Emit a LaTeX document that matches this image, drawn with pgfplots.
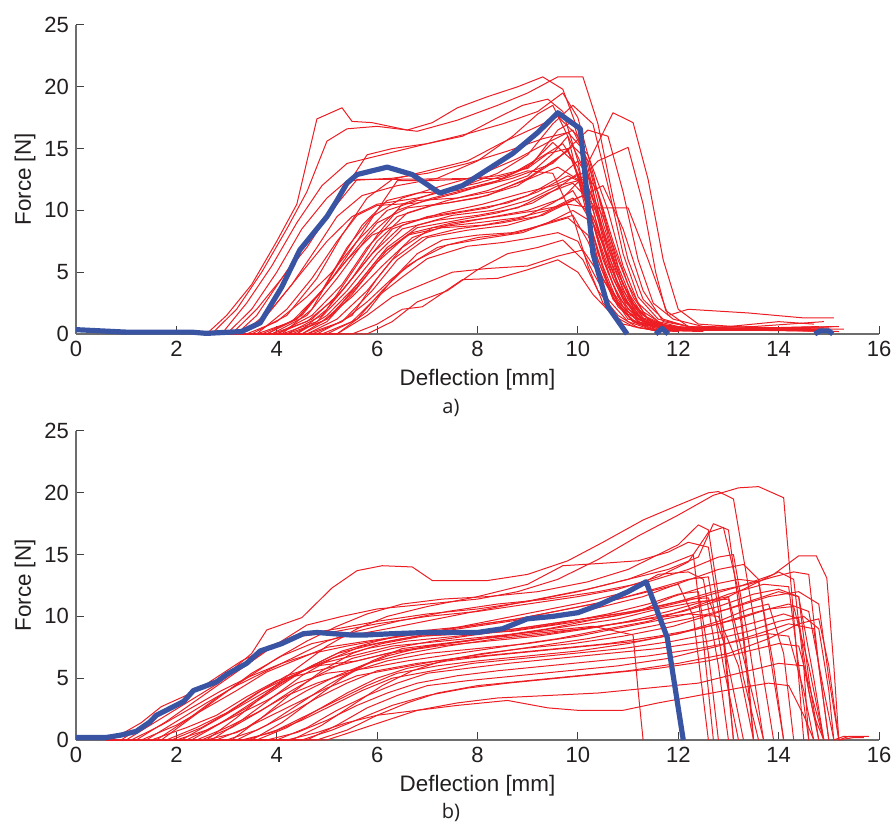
\documentclass[border=0pt]{standalone}
\usepackage{fontspec}
\setmainfont{Liberation Sans}
\newfontfamily\capfont{Open Sans}
\usepackage{pgfplots}
\pgfplotsset{compat=1.18}

\definecolor{myred}{RGB}{236,30,36}
\definecolor{myblue}{RGB}{56,84,162}
\definecolor{axgray}{RGB}{110,110,110}
\definecolor{txt}{RGB}{35,31,32}

\pgfplotsset{
  force/.style={
    width=401.5pt, height=154.5pt, scale only axis,
    xmin=0, xmax=16, ymin=0, ymax=25,
    xtick={0,2,...,16}, ytick={0,5,...,25},
    axis x line*=bottom, axis y line*=left,
    tick align=inside, major tick length=4pt,
    axis line style={axgray, line width=0.6pt},
    tick style={black!75, line width=0.5pt},
    tick label style={font=\fontsize{11}{13}\selectfont, text=txt},
    /pgf/number format/assume math mode=true,
    label style={font=\fontsize{11.2}{13}\selectfont, text=txt},
    xlabel={Deflection [mm]}, ylabel={Force [N]},
    xlabel style={at={(axis description cs:0.5,-0.149)}, anchor=center},
    ylabel style={at={(axis description cs:-0.0635,0.5)}, anchor=center},
    clip=false,
  },
  rl/.style={draw=myred, line width=0.5pt, mark=none, line join=round},
  bl/.style={draw=myblue, line width=2.6pt, mark=none, line join=round},
}

\begin{document}
\begin{tikzpicture}
\useasboundingbox (-38pt,-244pt) rectangle (409pt,167pt);

% ---------------- a) ----------------
\begin{axis}[force, at={(0,0)}, anchor=south west]
% early risers
\addplot[rl] coordinates {(2.6,0)(3.0,1.5)(3.5,4.0)(4.0,7.5)(4.4,10.5)(4.8,17.4)(5.3,18.3)(5.5,17.2)(5.9,17.1)(6.6,16.5)(7.1,17.1)(7.6,18.3)(8.2,19.2)(8.8,20.0)(9.3,20.8)(9.7,19.8)(10.0,16.5)(10.3,11.0)(10.6,6.0)(10.9,3.0)(11.3,1.2)(11.8,0.6)(12.5,0.5)(14.0,0.3)(15.0,0.2)};
\addplot[rl] coordinates {(2.7,0)(3.2,2.0)(3.7,5.0)(4.2,8.5)(4.6,11.5)(5.0,15.6)(5.4,16.6)(6.0,16.8)(6.8,16.4)(7.6,17.3)(8.4,18.5)(9.0,19.5)(9.6,20.8)(10.1,20.8)(10.4,17.0)(10.7,11.0)(11.0,6.0)(11.3,2.8)(11.7,1.2)(12.2,0.6)(13.0,0.5)(14.5,0.3)};
\addplot[rl] coordinates {(2.9,0)(3.4,2.5)(3.9,5.5)(4.4,9.0)(4.9,12.0)(5.4,13.8)(6.2,14.6)(7.0,15.4)(7.8,16.2)(8.5,17.0)(9.2,18.0)(9.7,19.5)(10.0,17.5)(10.3,13.0)(10.6,8.0)(10.9,4.0)(11.3,1.5)(11.8,0.6)(13.5,0.3)(15.2,0.2)};
\addplot[rl] coordinates {(2.6,0)(3.0,0)(3.5,2.0)(4.0,5.0)(4.5,8.5)(5.0,11.0)(5.4,12.4)(6.3,12.6)(7.0,13.0)(7.8,13.8)(8.6,14.8)(9.3,15.8)(9.8,16.3)(10.2,14.5)(10.6,10.0)(10.9,5.5)(11.2,2.5)(11.6,1.0)(12.2,0.4)(14.2,0.3)(14.9,0.3)};
\addplot[rl] coordinates {(2.6,0)(3.2,0)(3.6,1.5)(4.1,4.5)(4.6,7.5)(5.1,10.0)(5.6,12.5)(6.0,12.5)(8.5,12.6)(9.0,13.5)(9.5,15.5)(9.9,14.0)(10.2,10.5)(10.5,6.0)(10.8,3.0)(11.2,1.2)(12.0,0.3)(14.6,0.4)};
\addplot[rl] coordinates {(2.6,0)(3.1,0)(3.6,2.0)(4.1,4.5)(4.6,7.0)(5.0,9.5)(5.4,12.0)(5.8,14.5)(6.3,15.0)(7.0,15.4)(7.7,16.0)(8.4,17.5)(8.9,18.5)(9.4,19.0)(9.7,18.0)(10.0,14.0)(10.3,8.0)(10.6,4.0)(11.0,1.6)(11.5,0.6)(12.8,0.4)(15.0,0.3)};
\addplot[rl] coordinates {(2.6,0)(3.3,0)(3.8,1.5)(4.3,4.0)(4.8,7.0)(5.2,9.5)(5.7,11.2)(6.4,12.0)(7.2,12.6)(8.0,14.0)(8.7,16.0)(9.2,17.8)(9.5,18.5)(9.8,16.0)(10.1,11.0)(10.4,6.0)(10.7,2.8)(11.1,1.0)(12.0,0.3)};
% main bundle
\addplot[rl] coordinates {(2.6,0)(3.5,0)(4.2,1.5)(4.8,4.5)(5.3,8.0)(5.8,11.0)(6.3,12.5)(7.0,13.2)(7.8,14.0)(8.5,15.5)(9.2,16.8)(9.6,17.6)(10.0,16.0)(10.3,11.5)(10.6,7.0)(10.9,3.5)(11.3,1.3)(12.0,0.4)(13.5,0.3)};
\addplot[rl] coordinates {(2.6,0)(3.6,0)(4.3,1.0)(4.9,3.5)(5.4,7.0)(5.9,9.5)(6.5,11.0)(7.3,12.0)(8.0,12.8)(8.8,14.2)(9.4,15.5)(9.9,16.5)(10.2,14.0)(10.5,9.0)(10.8,5.0)(11.1,2.2)(11.6,0.6)(13.0,0.3)(15.0,0.5)};
\addplot[rl] coordinates {(2.6,0)(3.7,0)(4.4,1.2)(5.0,4.0)(5.5,6.5)(6.0,9.0)(6.6,10.2)(7.4,10.6)(8.2,11.2)(9.0,12.6)(9.5,14.0)(9.8,14.8)(10.1,12.0)(10.4,7.5)(10.7,4.0)(11.0,1.8)(11.5,0.5)(12.8,0.3)};
\addplot[rl] coordinates {(2.6,0)(3.8,0)(4.5,1.5)(5.1,4.5)(5.6,7.5)(6.2,10.0)(6.8,10.8)(7.6,11.0)(8.4,11.6)(9.0,12.5)(9.6,13.5)(10.0,12.5)(10.3,9.0)(10.6,5.5)(10.9,2.8)(11.3,1.0)(12.5,0.3)(14.0,0.5)(15.1,0.6)};
\addplot[rl] coordinates {(2.6,0)(3.9,0)(4.6,1.0)(5.2,3.0)(5.8,6.0)(6.3,8.5)(7.0,9.5)(7.8,10.0)(8.6,10.6)(9.2,11.5)(9.8,12.8)(10.2,12.0)(10.5,8.5)(10.8,5.0)(11.1,2.4)(11.5,0.8)(12.3,0.3)(14.8,0.4)};
\addplot[rl] coordinates {(2.6,0)(4.0,0)(4.7,1.5)(5.3,4.0)(5.8,7.0)(6.4,9.5)(7.1,10.4)(8.0,11.0)(8.8,12.0)(9.4,13.6)(9.9,15.2)(10.2,14.0)(10.5,10.0)(10.8,5.5)(11.1,2.5)(11.5,0.8)(12.6,0.3)};
\addplot[rl] coordinates {(2.6,0)(4.1,0)(4.8,1.0)(5.4,3.5)(6.0,6.5)(6.5,8.5)(7.2,9.2)(8.0,9.6)(8.8,10.2)(9.4,11.4)(9.9,12.2)(10.3,10.5)(10.6,7.0)(10.9,4.0)(11.2,1.8)(11.7,0.5)(13.2,0.3)(15.0,0.4)};
\addplot[rl] coordinates {(2.6,0)(4.2,0)(4.9,1.5)(5.5,4.5)(6.0,7.5)(6.6,9.8)(7.4,10.8)(8.2,11.6)(9.0,12.8)(9.5,14.6)(9.8,16.0)(10.1,13.5)(10.4,8.5)(10.7,4.5)(11.0,2.0)(11.5,0.6)(12.2,0.3)};
\addplot[rl] coordinates {(2.6,0)(4.3,0)(5.0,1.2)(5.6,3.8)(6.2,6.8)(6.8,8.6)(7.6,9.2)(8.4,9.8)(9.1,10.6)(9.6,11.8)(10.0,13.0)(10.3,10.0)(10.6,6.0)(10.9,3.0)(11.2,1.2)(11.8,0.3)(14.5,0.5)};
\addplot[rl] coordinates {(2.6,0)(4.4,0)(5.0,2.0)(5.5,5.0)(6.0,8.0)(6.5,10.5)(7.2,11.5)(8.0,12.2)(8.7,13.0)(9.3,14.4)(9.7,15.4)(10.0,13.5)(10.3,9.0)(10.6,5.0)(10.9,2.2)(11.3,0.7)(12.4,0.3)(15.3,0.4)};
\addplot[rl] coordinates {(2.6,0)(4.5,0)(5.1,1.5)(5.7,4.5)(6.2,7.0)(6.8,8.8)(7.5,9.6)(8.3,10.0)(9.0,10.8)(9.6,12.0)(10.1,12.5)(10.5,9.5)(10.8,6.0)(11.1,3.0)(11.4,1.2)(11.9,0.4)(12.5,0.3)};
\addplot[rl] coordinates {(2.6,0)(4.6,0)(5.3,1.0)(5.9,3.5)(6.4,6.0)(7.0,7.8)(7.8,8.4)(8.6,8.8)(9.2,9.5)(9.7,10.5)(10.1,11.2)(10.4,8.5)(10.7,5.0)(11.0,2.5)(11.3,1.0)(12.0,0.3)(14.0,0.3)};
\addplot[rl] coordinates {(2.6,0)(4.8,0)(5.5,1.5)(6.0,4.5)(6.5,7.0)(7.1,8.6)(8.0,9.0)(8.8,9.4)(9.4,10.0)(9.9,11.0)(10.3,9.5)(10.6,6.0)(10.9,3.0)(11.2,1.2)(11.7,0.4)(13.0,0.3)};
\addplot[rl] coordinates {(2.6,0)(5.0,0)(5.6,1.2)(6.1,3.5)(6.6,5.5)(7.2,7.0)(8.0,7.8)(8.8,8.2)(9.4,9.0)(9.9,10.0)(10.3,9.0)(10.7,5.5)(11.0,2.8)(11.3,1.0)(11.9,0.3)(14.5,0.3)};
\addplot[rl] coordinates {(2.6,0)(3.4,0)(4.0,1.0)(4.6,3.0)(5.1,5.0)(5.6,7.5)(6.0,10.0)(6.4,12.4)(7.0,12.4)(7.6,12.5)(8.4,12.8)(9.0,13.4)(9.4,14.6)(9.8,15.0)(10.1,11.5)(10.4,6.5)(10.7,3.0)(11.0,1.2)(11.8,0.4)(14.9,0.5)};
\addplot[rl] coordinates {(2.6,0)(3.6,0)(4.2,2.0)(4.7,4.5)(5.2,7.5)(5.6,9.6)(6.0,10.4)(6.8,10.6)(7.6,11.4)(8.4,12.4)(9.0,13.2)(9.5,13.0)(9.9,9.5)(10.2,5.5)(10.5,2.5)(10.9,0.8)(11.5,0.3)(13.6,0.4)};
\addplot[rl] coordinates {(2.6,0)(4.1,0)(4.7,2.0)(5.2,5.5)(5.7,8.8)(6.2,10.8)(6.8,11.4)(7.6,11.6)(8.4,12.4)(9.1,13.8)(9.6,16.5)(9.9,17.2)(10.2,13.5)(10.5,8.0)(10.8,4.0)(11.1,1.8)(11.6,0.5)(12.8,0.4)(14.8,0.6)};
\addplot[rl] coordinates {(2.6,0)(4.5,0)(5.0,1.0)(5.5,3.2)(6.0,5.8)(6.6,8.0)(7.3,8.6)(8.1,8.8)(8.9,9.4)(9.5,10.6)(9.9,11.6)(10.2,9.5)(10.5,5.5)(10.8,2.5)(11.1,1.0)(11.6,0.3)};
\addplot[rl] coordinates {(2.6,0)(3.8,0)(4.4,1.2)(4.9,3.5)(5.4,6.0)(5.9,8.0)(6.5,9.0)(7.3,9.6)(8.2,10.2)(9.0,11.2)(9.6,12.6)(10.0,14.0)(10.4,11.5)(10.7,7.5)(11.0,4.0)(11.3,1.8)(11.8,0.5)(13.8,0.4)};
\addplot[rl] coordinates {(2.6,0)(5.2,0)(5.8,1.8)(6.3,4.4)(6.8,6.5)(7.3,7.6)(8.0,8.0)(8.7,8.2)(9.3,8.8)(9.8,9.4)(10.2,8.0)(10.5,5.0)(10.8,2.5)(11.1,1.0)(11.6,0.2)};
% low / late risers
\addplot[rl] coordinates {(2.6,0)(5.5,0)(6.0,0.8)(6.5,2.0)(6.9,2.2)(7.7,4.4)(8.4,4.5)(9.0,5.2)(9.6,6.0)(10.0,5.0)(10.3,3.2)(10.7,1.5)(11.1,0.6)(11.5,0.3)(12.5,0.2)};
\addplot[rl] coordinates {(2.6,0)(5.2,0)(5.8,1.5)(6.3,3.0)(6.9,4.0)(7.5,5.0)(8.2,5.3)(9.0,5.5)(9.6,6.3)(10.1,6.8)(10.4,5.0)(10.8,2.6)(11.2,1.0)(11.6,0.4)(12.8,0.3)};
\addplot[rl] coordinates {(2.6,0)(4.9,0)(5.5,1.0)(6.0,3.0)(6.5,4.6)(7.0,6.1)(7.8,7.1)(8.5,7.4)(9.1,7.8)(9.6,8.2)(10.0,7.5)(10.3,5.0)(10.6,2.8)(11.0,1.0)(11.5,0.3)(12.0,0.2)};
\addplot[rl] coordinates {(2.6,0)(4.7,0)(5.3,1.0)(5.8,2.6)(6.3,4.5)(6.8,6.0)(7.4,7.2)(8.1,7.7)(8.9,8.2)(9.4,9.0)(9.9,9.6)(10.2,7.5)(10.5,4.5)(10.8,2.2)(11.2,0.8)(12.5,0.3)};
\addplot[rl] coordinates {(2.6,0)(5.8,0)(6.3,1.0)(6.8,2.6)(7.4,3.5)(8.0,5.2)(8.6,6.5)(9.2,7.0)(9.7,7.6)(10.1,6.0)(10.4,3.5)(10.8,1.5)(11.2,0.5)(12.0,0.2)};
% late droppers
\addplot[rl] coordinates {(2.6,0)(4.0,0)(4.7,1.2)(5.3,3.5)(5.9,6.5)(6.5,8.8)(7.3,9.8)(8.1,10.5)(8.9,11.4)(9.5,12.0)(10.1,13.0)(10.7,17.9)(11.1,17.1)(11.4,12.5)(11.7,6.0)(12.0,2.0)(12.4,0.8)(13.5,0.5)(15.0,0.3)};
\addplot[rl] coordinates {(2.6,0)(4.2,0)(4.9,1.0)(5.5,3.0)(6.1,5.5)(6.7,7.8)(7.4,8.8)(8.2,9.4)(9.0,10.0)(9.7,11.0)(10.4,14.0)(11.0,15.1)(11.3,10.5)(11.55,5.0)(11.75,1.9)(12.2,0.6)(13.5,0.4)(14.8,0.3)};
\addplot[rl] coordinates {(2.6,0)(4.4,0)(5.0,1.5)(5.6,4.0)(6.1,6.5)(6.7,8.2)(7.5,9.0)(8.4,9.5)(9.2,10.0)(9.8,10.5)(10.3,10.2)(11.0,10.2)(11.4,6.0)(11.8,1.5)(12.2,2.0)(13.4,1.7)(14.5,1.3)(15.1,1.3)};
\addplot[rl] coordinates {(2.6,0)(3.9,0)(4.6,1.5)(5.2,4.5)(5.8,7.8)(6.4,10.0)(7.1,11.0)(7.9,11.8)(8.7,12.6)(9.5,13.8)(10.2,16.5)(10.6,16.0)(10.9,11.5)(11.2,6.0)(11.5,2.5)(11.9,1.2)(12.5,0.6)(14.2,0.5)(15.2,0.6)};
\addplot[rl] coordinates {(2.6,0)(4.6,0)(5.2,1.2)(5.8,3.5)(6.3,6.0)(6.9,7.8)(7.6,8.5)(8.5,9.0)(9.3,9.6)(10.0,11.0)(10.5,12.0)(10.9,8.5)(11.3,3.5)(11.7,1.0)(12.5,0.4)(14.0,1.0)(14.7,0.8)};
\addplot[rl] coordinates {(2.6,0)(3.3,0)(3.9,2.0)(4.5,5.0)(5.0,7.5)(5.5,9.5)(6.0,10.5)(6.8,11.0)(7.6,11.8)(8.4,13.0)(9.0,14.5)(9.5,17.0)(9.9,18.5)(10.3,17.0)(10.6,12.0)(10.9,6.5)(11.2,3.0)(11.6,1.2)(12.3,0.5)(13.5,0.6)(14.9,1.0)};
% mean
\addplot[bl] coordinates {(0,0.35)(0.5,0.25)(1.0,0.15)(2.3,0.15)(2.6,0.05)(3.3,0.2)(3.67,0.9)(4.1,3.8)(4.46,6.8)(5.0,9.5)(5.2,10.8)(5.4,12.2)(5.6,12.9)(6.2,13.5)(6.7,12.9)(7.25,11.4)(7.7,12.0)(8.2,13.3)(8.7,14.6)(9.2,16.3)(9.6,17.9)(10.05,16.6)(10.3,6.5)(10.6,2.2)(10.98,0)};
\addplot[bl] coordinates {(11.55,0)(11.68,0.45)(11.8,0)};
\addplot[bl] coordinates {(14.72,0)(14.82,0.25)(15.0,0.25)(15.08,0)};
\node[font=\capfont\fontsize{10}{12}\selectfont, text=txt] at (axis description cs:0.467,-0.24) {a)};
\end{axis}

% ---------------- b) ----------------
\begin{axis}[force, at={(0,-203pt)}, anchor=south west]
\addplot[rl] coordinates {(0.6,0)(0.7,0)(1.3,1.4)(1.7,2.7)(2.3,3.8)(3.0,5.3)(3.5,7.0)(3.8,8.9)(4.5,9.9)(5.1,12.3)(5.6,13.7)(6.1,14.1)(6.7,14.0)(7.1,12.9)(8.2,12.9)(9.0,13.4)(9.8,14.5)(10.5,16.0)(11.3,17.8)(12.0,19.0)(12.6,20.0)(12.8,20.1)(13.1,19.5)(13.5,10.0)(13.9,0)};
\addplot[rl] coordinates {(0.6,0)(1.2,0)(1.8,1.5)(2.5,3.5)(3.2,5.5)(3.9,7.5)(4.6,9.3)(5.3,10.0)(6.0,10.6)(7.0,11.0)(8.0,11.4)(8.8,12.0)(9.6,13.0)(10.4,14.6)(11.2,16.5)(12.0,18.2)(12.7,19.8)(13.2,20.4)(13.6,20.5)(14.1,19.6)(14.3,10.0)(14.5,0)};
\addplot[rl] coordinates {(0.6,0)(1.0,0)(1.6,1.5)(2.2,3.0)(2.8,4.5)(3.4,6.2)(4.0,7.8)(4.6,8.6)(5.2,9.0)(6.0,9.6)(7.0,10.2)(8.0,10.6)(9.0,11.2)(10.0,12.0)(11.0,13.0)(11.8,14.2)(12.3,15.0)(12.5,8.0)(12.7,0)};
\addplot[rl] coordinates {(0.6,0)(1.3,0)(2.0,1.2)(2.6,2.6)(3.2,4.0)(3.8,5.5)(4.4,6.5)(5.0,7.5)(5.8,8.0)(6.8,8.6)(7.8,9.2)(8.8,9.8)(9.8,10.6)(10.8,11.4)(11.6,12.3)(12.2,13.0)(12.6,13.2)(12.9,6.0)(13.2,0)};
\addplot[rl] coordinates {(0.6,0)(1.5,0)(2.2,1.0)(2.8,2.0)(3.4,3.5)(4.0,4.8)(4.6,5.4)(5.4,6.2)(6.2,7.0)(7.2,7.6)(8.2,8.0)(9.2,8.4)(10.2,9.0)(11.0,9.6)(11.8,10.4)(12.5,11.2)(13.0,11.6)(13.4,5.0)(13.7,0)};
\addplot[rl] coordinates {(0.6,0)(1.8,0)(2.4,1.0)(3.0,2.2)(3.6,3.8)(4.2,5.2)(4.8,6.0)(5.6,6.4)(6.4,7.2)(7.4,7.8)(8.4,8.4)(9.4,9.0)(10.4,9.8)(11.2,10.4)(11.9,11.6)(12.6,12.5)(13.2,13.0)(13.6,12.8)(13.9,6.0)(14.1,0)};
\addplot[rl] coordinates {(0.6,0)(2.0,0)(2.6,0.8)(3.2,2.0)(3.8,3.2)(4.4,4.6)(5.0,5.4)(5.8,5.8)(6.6,6.4)(7.6,7.0)(8.6,7.6)(9.6,8.2)(10.6,9.0)(11.4,9.6)(12.2,10.6)(13.0,11.8)(13.7,12.6)(14.2,12.4)(14.4,6.0)(14.6,0)};
\addplot[rl] coordinates {(0.6,0)(2.2,0)(2.8,1.2)(3.4,2.6)(4.0,4.2)(4.6,5.8)(5.2,7.0)(6.0,7.8)(6.8,8.4)(7.8,8.6)(8.8,9.0)(9.8,9.6)(10.8,10.2)(11.6,10.8)(12.2,11.4)(12.6,11.5)(12.9,8.0)(13.3,0)};
\addplot[rl] coordinates {(0.6,0)(2.4,0)(3.0,1.0)(3.6,2.2)(4.2,3.6)(4.8,4.6)(5.4,5.4)(6.2,6.4)(7.0,7.0)(8.0,7.4)(9.0,7.8)(10.0,8.4)(11.0,9.2)(12.0,10.0)(12.8,10.8)(13.5,11.8)(14.0,12.2)(14.4,11.6)(14.6,5.0)(14.8,0)};
\addplot[rl] coordinates {(0.6,0)(2.6,0)(3.2,0.6)(3.8,1.8)(4.4,3.0)(5.0,4.2)(5.6,5.2)(6.4,5.8)(7.2,6.4)(8.2,7.0)(9.2,7.6)(10.2,8.2)(11.2,9.0)(12.2,9.8)(13.0,10.6)(13.8,11.6)(14.4,12.0)(14.8,11.0)(15.0,5.0)(15.2,0)(15.4,0.3)(15.8,0.3)};
\addplot[rl] coordinates {(0.6,0)(2.8,0)(3.4,1.0)(4.0,2.6)(4.6,4.0)(5.2,5.2)(5.8,6.2)(6.6,7.0)(7.4,7.6)(8.4,8.2)(9.4,8.6)(10.4,9.2)(11.4,9.8)(12.2,10.2)(12.8,10.0)(13.2,6.0)(13.5,0)};
\addplot[rl] coordinates {(0.6,0)(3.0,0)(3.6,0.8)(4.2,2.0)(4.8,3.4)(5.4,4.6)(6.0,5.6)(6.8,6.2)(7.6,6.6)(8.6,7.0)(9.6,7.4)(10.6,7.8)(11.6,8.4)(12.4,9.0)(13.2,9.8)(13.8,10.6)(14.3,10.8)(14.6,6.0)(14.9,0)};
\addplot[rl] coordinates {(0.6,0)(3.2,0)(3.8,1.2)(4.4,2.8)(5.0,4.4)(5.6,5.8)(6.2,6.8)(7.0,7.6)(7.8,8.0)(8.8,8.6)(9.8,9.2)(10.8,9.8)(11.6,10.6)(12.4,11.2)(13.0,11.4)(13.3,5.0)(13.6,0)};
\addplot[rl] coordinates {(0.6,0)(3.4,0)(4.0,0.8)(4.6,2.0)(5.2,3.2)(5.8,4.4)(6.4,5.4)(7.2,6.0)(8.0,6.4)(9.0,6.8)(10.0,7.2)(11.0,7.8)(12.0,8.6)(12.8,9.4)(13.6,10.4)(14.2,11.0)(14.6,10.4)(14.9,4.0)(15.1,0)};
\addplot[rl] coordinates {(0.6,0)(3.6,0)(4.2,1.0)(4.8,2.4)(5.4,3.8)(6.0,5.0)(6.6,5.8)(7.4,6.4)(8.2,6.8)(9.2,7.2)(10.2,7.6)(11.2,8.0)(12.0,8.6)(12.8,9.6)(13.4,10.6)(13.8,11.0)(14.1,7.0)(14.3,0)};
\addplot[rl] coordinates {(0.6,0)(3.8,0)(4.4,0.6)(5.0,1.6)(5.6,2.8)(6.2,3.8)(6.8,4.6)(7.6,5.2)(8.4,5.6)(9.4,6.0)(10.4,6.4)(11.4,6.8)(12.4,7.4)(13.2,8.0)(13.8,8.6)(14.2,8.4)(14.5,4.0)(14.7,0)};
\addplot[rl] coordinates {(0.6,0)(4.0,0)(4.6,1.0)(5.2,2.4)(5.8,3.6)(6.4,4.6)(7.0,5.4)(7.8,5.8)(8.6,6.2)(9.6,6.6)(10.6,7.0)(11.6,7.4)(12.6,8.0)(13.4,8.8)(14.0,9.6)(14.5,10.0)(14.8,9.0)(15.0,4.0)(15.1,0)(15.3,0.3)(15.6,0.2)};
\addplot[rl] coordinates {(0.6,0)(4.2,0)(4.8,0.6)(5.4,1.4)(6.0,2.0)(6.8,2.4)(7.6,2.8)(8.6,3.2)(9.4,2.6)(10.0,2.4)(10.9,2.4)(11.6,3.0)(12.4,3.6)(13.2,4.2)(13.8,4.6)(14.2,4.4)(14.5,2.0)(14.7,0)};
\addplot[rl] coordinates {(0.6,0)(4.5,0)(5.1,0.8)(5.7,1.8)(6.3,2.8)(7.0,3.6)(7.8,4.2)(8.6,4.6)(9.6,5.0)(10.6,5.4)(11.6,5.8)(12.6,6.4)(13.4,7.2)(14.0,7.8)(14.4,7.6)(14.7,3.0)(14.9,0)};
\addplot[rl] coordinates {(0.6,0)(4.8,0)(5.4,0.8)(6.0,2.0)(6.6,3.0)(7.2,3.8)(8.0,4.4)(9.0,4.8)(10.0,5.2)(11.0,5.6)(12.0,6.2)(13.0,7.0)(13.8,8.2)(14.4,9.4)(14.8,9.8)(15.0,6.0)(15.2,0)(15.5,0.2)(15.7,0.2)};
\addplot[rl] coordinates {(0.6,0)(1.4,0)(2.0,1.5)(2.6,3.0)(3.2,4.4)(3.8,5.6)(4.4,6.8)(5.0,8.0)(5.6,8.8)(6.4,9.6)(7.4,10.4)(8.4,11.0)(9.4,11.4)(10.4,12.0)(11.4,12.8)(12.2,13.8)(12.8,14.8)(13.1,15.0)(13.4,8.0)(13.7,0)};
\addplot[rl] coordinates {(0.6,0)(1.9,0)(2.5,1.0)(3.1,2.4)(3.7,4.0)(4.3,5.2)(4.9,6.2)(5.5,6.8)(6.3,7.6)(7.3,8.0)(8.3,8.4)(9.3,8.8)(10.3,9.2)(11.1,8.5)(11.2,4.0)(11.3,0)};
\addplot[rl] coordinates {(0.6,0)(2.3,0)(2.9,1.4)(3.5,3.0)(4.1,4.6)(4.7,6.0)(5.3,7.2)(6.0,8.0)(6.8,8.8)(7.8,9.2)(8.8,9.8)(9.8,10.6)(10.8,11.4)(11.6,12.2)(12.0,12.6)(12.3,10.0)(12.6,0)};
\addplot[rl] coordinates {(0.6,0)(2.7,0)(3.3,1.6)(3.9,3.4)(4.5,5.2)(5.1,6.6)(5.7,7.6)(6.5,8.2)(7.3,8.8)(8.3,9.4)(9.3,10.0)(10.3,10.6)(11.3,11.6)(12.1,12.8)(12.8,13.8)(13.3,14.2)(13.6,13.0)(13.9,5.0)(14.1,0)};
\addplot[rl] coordinates {(0.6,0)(3.1,0)(3.7,1.8)(4.3,3.8)(4.9,5.6)(5.5,7.0)(6.1,7.8)(6.9,8.4)(7.7,8.6)(8.7,8.8)(9.7,9.4)(10.7,10.0)(11.7,10.8)(12.5,11.6)(13.2,12.4)(13.9,13.4)(14.4,14.9)(14.75,14.9)(14.96,13.1)(15.1,6.0)(15.2,0)};
\addplot[rl] coordinates {(0.6,0)(3.5,0)(4.1,1.4)(4.7,3.2)(5.3,5.0)(5.9,6.4)(6.5,7.4)(7.3,7.8)(8.1,8.2)(9.1,8.6)(10.1,9.0)(11.1,9.6)(12.1,10.4)(12.9,11.4)(13.6,12.8)(14.0,13.6)(14.3,13.0)(14.5,6.0)(14.6,0)};
\addplot[rl] coordinates {(0.6,0)(4.3,0)(4.9,1.2)(5.5,2.8)(6.1,4.4)(6.7,5.6)(7.3,6.4)(8.1,7.0)(8.9,7.4)(9.9,7.8)(10.9,8.4)(11.9,9.2)(12.7,10.2)(13.4,11.2)(14.0,12.0)(14.4,11.6)(14.7,5.0)(14.9,0)};
\addplot[rl] coordinates {(0.6,0)(0.9,0)(1.5,1.6)(2.1,3.2)(2.7,4.8)(3.3,6.4)(3.9,7.6)(4.5,8.4)(5.2,8.8)(6.0,9.4)(7.0,10.0)(8.0,10.4)(9.0,11.0)(10.0,11.6)(10.8,12.2)(11.6,13.2)(12.2,14.4)(12.6,16.8)(12.9,17.2)(13.2,12.0)(13.4,5.0)(13.5,0)};
\addplot[rl] coordinates {(0.6,0)(1.7,0)(2.3,1.8)(2.9,3.6)(3.5,5.4)(4.1,6.8)(4.7,7.8)(5.4,8.4)(6.2,9.0)(7.2,9.8)(8.2,10.6)(9.2,11.4)(10.2,12.2)(11.0,13.0)(11.8,13.8)(12.4,14.8)(12.7,17.5)(13.0,17.0)(13.3,8.0)(13.5,0)};
\addplot[rl] coordinates {(0.6,0)(2.5,0)(3.1,1.0)(3.7,2.4)(4.3,4.0)(4.9,5.4)(5.5,6.6)(6.3,7.4)(7.1,8.0)(8.1,8.6)(9.1,9.2)(10.1,9.8)(11.1,10.4)(12.0,11.2)(12.7,12.0)(13.4,12.6)(13.9,13.2)(14.3,13.6)(14.6,13.4)(14.8,6.0)(15.0,0)};
\addplot[rl] coordinates {(0.6,0)(3.3,0)(3.9,0.6)(4.5,1.6)(5.1,2.8)(5.7,4.0)(6.3,5.0)(7.1,5.6)(7.9,6.2)(8.9,6.6)(9.9,7.0)(10.9,7.4)(11.9,8.0)(12.9,8.8)(13.6,9.6)(14.1,10.2)(14.4,9.8)(14.6,4.0)(14.8,0)};
\addplot[rl] coordinates {(0.6,0)(4.6,0)(5.2,1.2)(5.8,2.6)(6.4,3.6)(7.0,4.4)(7.8,4.8)(8.8,5.2)(9.8,5.6)(10.8,6.0)(11.8,6.6)(12.8,7.6)(13.6,8.6)(14.2,9.4)(14.7,9.0)(14.9,3.0)(15.0,0)};
\addplot[rl] coordinates {(0.6,0)(5.0,0)(5.6,0.8)(6.2,1.6)(6.8,2.4)(7.6,3.0)(8.4,3.4)(9.4,3.6)(10.4,3.8)(11.4,4.2)(12.4,4.6)(13.4,5.6)(14.0,6.2)(14.5,6.0)(14.7,2.0)(14.9,0)};
\addplot[rl] coordinates {(0.6,0)(2.1,0)(2.7,1.4)(3.3,2.8)(3.9,4.2)(4.5,5.6)(5.1,6.6)(5.8,7.4)(6.6,8.0)(7.6,8.4)(8.6,8.8)(9.6,9.4)(10.6,10.2)(11.4,11.0)(12.0,11.8)(12.4,12.0)(12.6,7.0)(12.8,0)};
\addplot[rl] coordinates {(0.6,0)(1.1,0)(1.7,1.2)(2.3,2.6)(2.9,4.0)(3.5,5.2)(4.1,6.2)(4.7,7.0)(5.4,7.6)(6.2,8.2)(7.2,8.8)(8.2,9.6)(9.2,10.4)(10.2,11.2)(11.0,12.0)(11.6,13.4)(12.2,13.6)(12.5,13.0)(12.8,6.0)(13.0,0)};
\addplot[rl] coordinates {(0.6,0)(1.6,0)(2.2,1.6)(2.8,3.4)(3.4,5.0)(4.0,6.6)(4.6,8.0)(5.2,9.2)(5.8,10.2)(6.5,11.0)(7.3,11.4)(8.2,11.6)(9.2,12.0)(10.2,12.8)(11.0,13.8)(11.6,15.0)(12.0,15.8)(12.4,17.4)(12.6,17.0)(12.9,9.0)(13.1,0)};
\addplot[rl] coordinates {(0.6,0)(2.6,0)(3.2,1.8)(3.8,3.8)(4.4,5.8)(5.0,7.6)(5.6,9.0)(6.2,10.0)(7.0,10.8)(8.0,11.6)(9.0,12.6)(9.7,14.1)(10.5,14.3)(11.2,14.5)(11.8,15.2)(12.2,16.0)(12.6,15.6)(12.9,8.0)(13.1,0)};
% mean
\addplot[bl] coordinates {(0,0.2)(0.6,0.2)(0.9,0.4)(1.2,0.7)(1.47,1.45)(1.6,2.0)(2.14,3.1)(2.34,4.0)(2.8,4.7)(3.0,5.3)(3.4,6.2)(3.67,7.2)(4.1,7.8)(4.53,8.6)(4.8,8.7)(5.46,8.5)(5.8,8.5)(6.3,8.6)(6.99,8.7)(7.5,8.7)(8.0,8.7)(8.5,9.0)(8.99,9.8)(9.5,10.0)(10.0,10.3)(10.4,10.9)(11.0,12.0)(11.36,12.8)(11.78,8.3)(12.1,0)};
\node[font=\capfont\fontsize{10}{12}\selectfont, text=txt] at (axis description cs:0.467,-0.235) {b)};
\end{axis}
\end{tikzpicture}
\end{document}
